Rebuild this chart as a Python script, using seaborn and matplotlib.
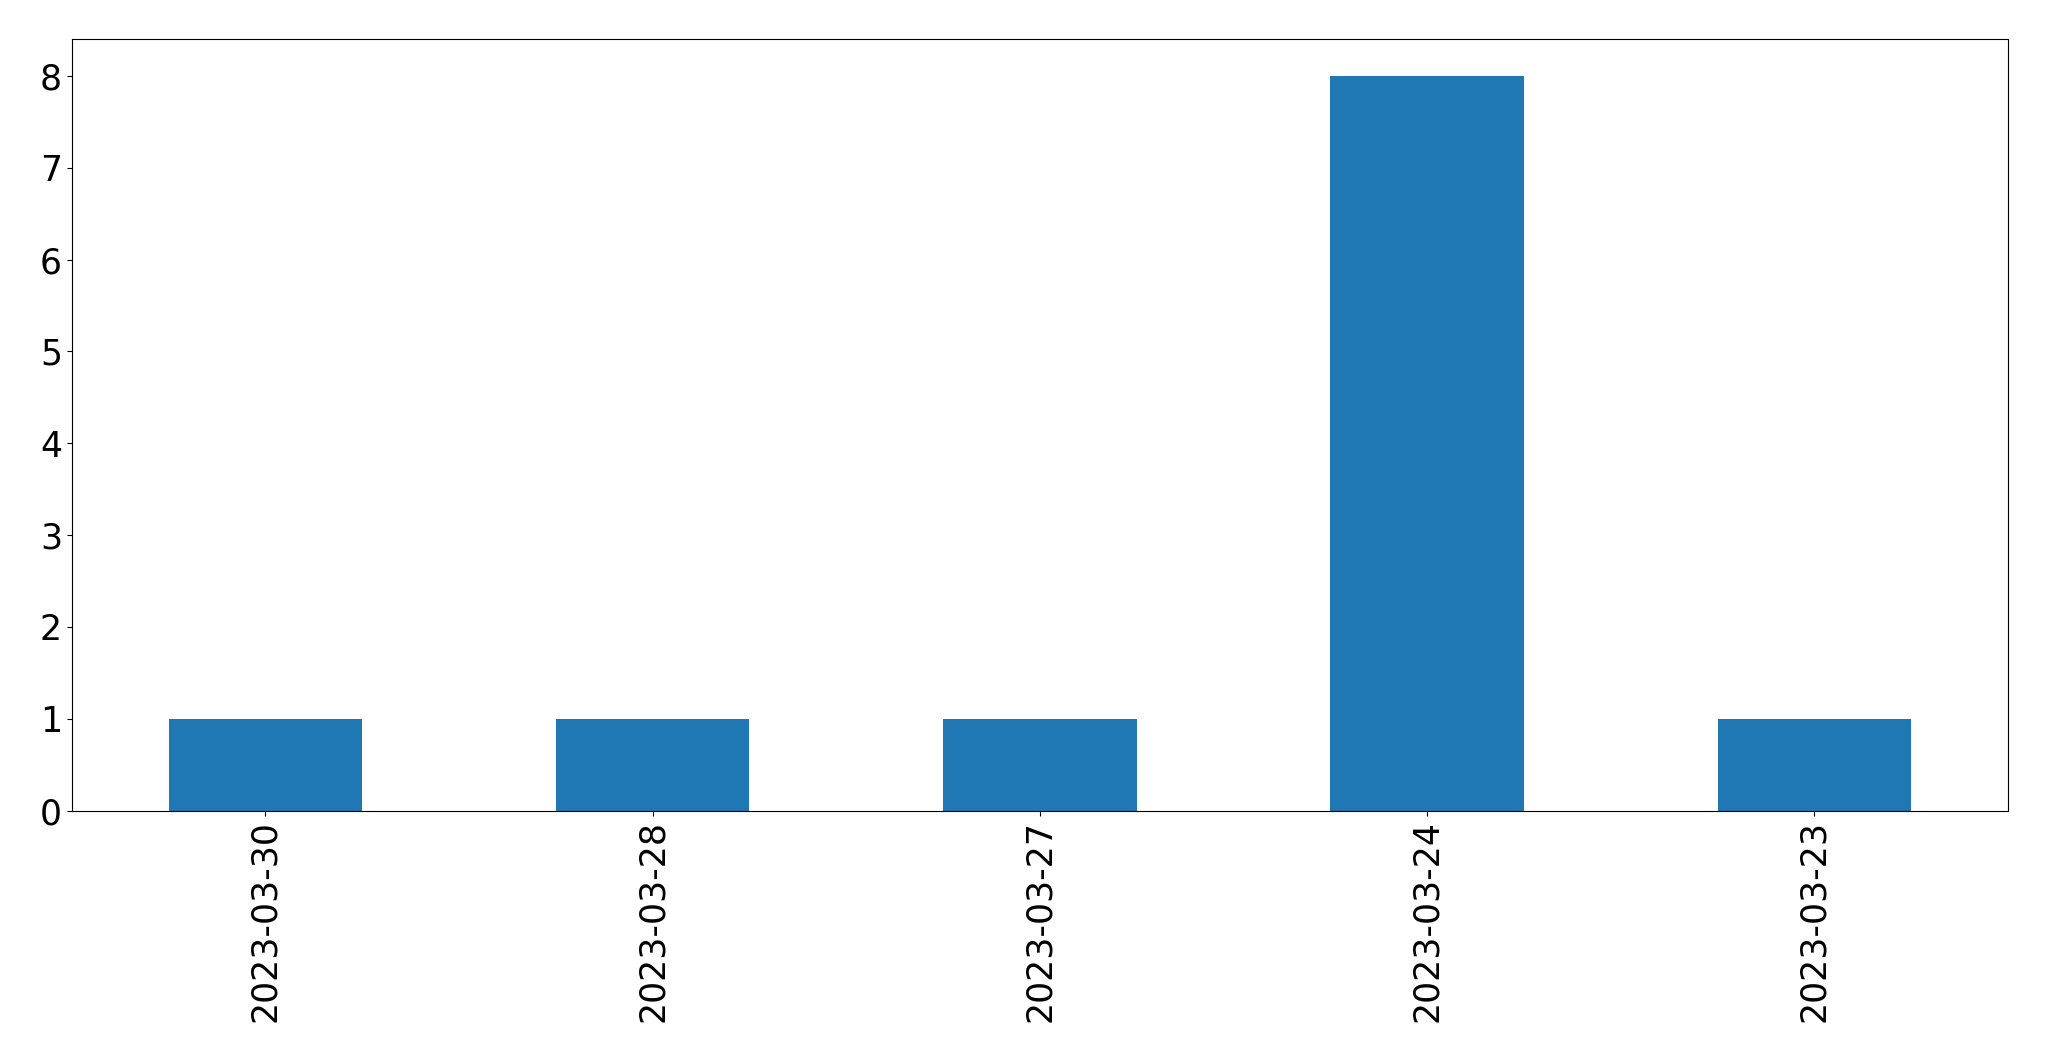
import pandas as pd
import seaborn as sns
import matplotlib.pyplot as plt

dates = ['2023-03-30', '2023-03-28', '2023-03-27', '2023-03-24', '2023-03-23']
counts = [1, 1, 1, 8, 1]

df = pd.DataFrame({'date': dates, 'count': counts})

fig, ax = plt.subplots(figsize=(20.49, 10.61), dpi=100)
sns.barplot(data=df, x='date', y='count', color='#1f77b4', saturation=1,
            width=0.5, ax=ax)
ax.set_xlim(-0.5, len(dates) - 0.5)
ax.set_xlabel('')
ax.set_ylabel('')
ax.tick_params(axis='both', labelsize=25)
ax.tick_params(axis='x', labelrotation=90)
fig.subplots_adjust(left=0.035, right=0.980, top=0.963, bottom=0.236)
fig.savefig('out.png')
